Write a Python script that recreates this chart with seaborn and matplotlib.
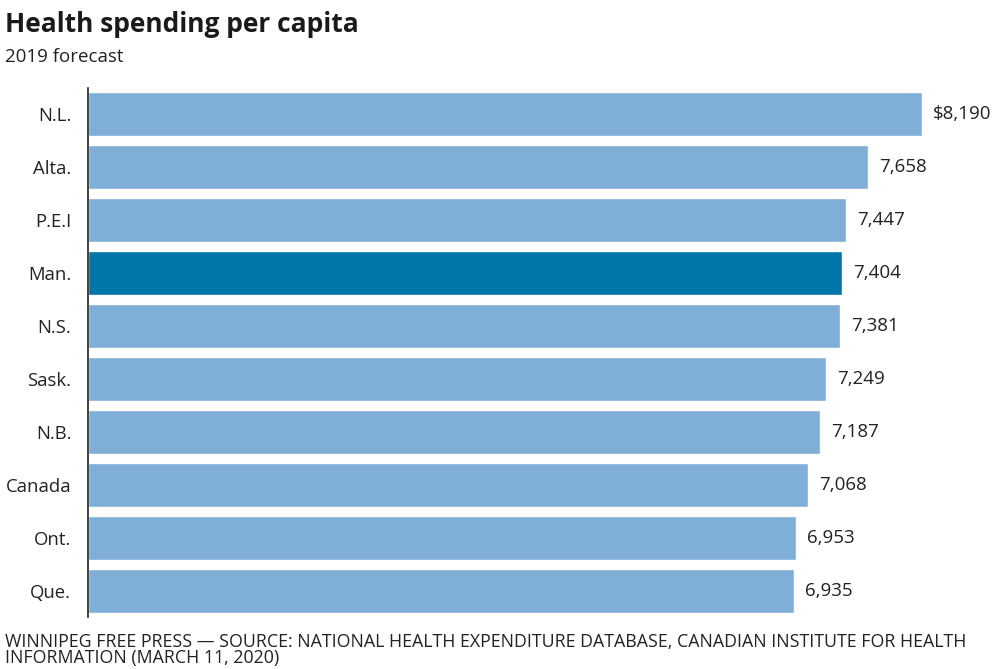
import matplotlib
matplotlib.use("Agg")
import matplotlib.pyplot as plt
import seaborn as sns
import pandas as pd

# data
provinces = ["N.L.", "Alta.", "P.E.I", "Man.", "N.S.", "Sask.", "N.B.", "Canada", "Ont.", "Que."]
spending = [8190, 7658, 7447, 7404, 7381, 7249, 7187, 7068, 6953, 6935]
highlight = "Man."

LIGHT = "#7FAED6"
DARK = "#0076A8"

sns.set_theme(style="white")
plt.rcParams["font.family"] = ["Open Sans", "DejaVu Sans"]

df = pd.DataFrame({"province": provinces, "spending": spending})
palette = {p: (DARK if p == highlight else LIGHT) for p in provinces}

fig = plt.figure(figsize=(9.99, 6.69), dpi=100)
ax = fig.add_axes([88 / 999, 1 - 617 / 669, (984 - 88) / 999, (617 - 88) / 669])

sns.barplot(data=df, x="spending", y="province", hue="province", palette=palette,
            order=provinces, width=0.83, legend=False, ax=ax, saturation=1)

ax.set_xlim(0, 8800)
ax.set_ylim(9.5, -0.5)
ax.set_xlabel(""); ax.set_ylabel("")
ax.set_xticks([])
ax.tick_params(axis="y", length=0, labelsize=13.3, labelcolor="#222222", pad=12)
for s in ["top", "right", "bottom"]:
    ax.spines[s].set_visible(False)
ax.spines["left"].set_color("#222222")
ax.spines["left"].set_linewidth(1.2)

for i, v in enumerate(spending):
    label = f"${v:,}" if i == 0 else f"{v:,}"
    ax.text(v + 110, i, label, va="center", ha="left", fontsize=13.5, color="#222222")

fig.text(5 / 999, 1 - 25 / 669, "Health spending per capita", fontsize=19, fontweight="bold",
         color="#1a1a1a", va="center", ha="left")
fig.text(5 / 999, 1 - 57 / 669, "2019 forecast", fontsize=13.5, color="#222222",
         va="center", ha="left")
fig.text(5 / 999, 1 - 650 / 669,
         "WINNIPEG FREE PRESS — SOURCE: NATIONAL HEALTH EXPENDITURE DATABASE, CANADIAN INSTITUTE FOR HEALTH\nINFORMATION (MARCH 11, 2020)",
         fontsize=12.8, color="#222222", va="center", ha="left", linespacing=0.85,
         family=["Liberation Sans Narrow", "Open Sans", "DejaVu Sans"])

fig.savefig("out.png", dpi=100)
